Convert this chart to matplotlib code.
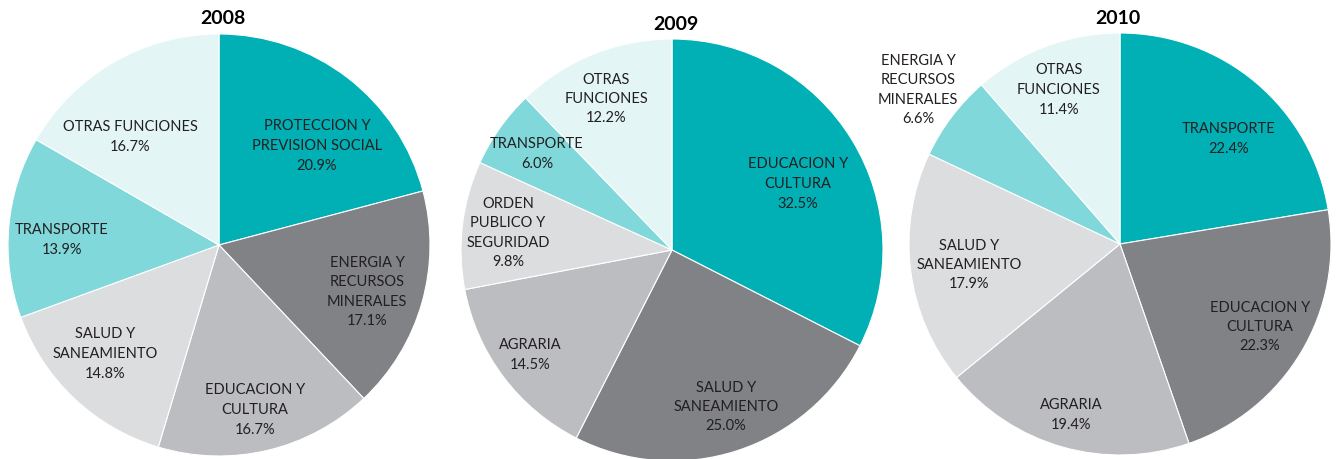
import matplotlib
matplotlib.use('Agg')
import matplotlib.pyplot as plt

plt.rcParams['font.family'] = ['Lato', 'DejaVu Sans']

# data
years = ['2008', '2009', '2010']

labels_2008 = ['PROTECCION Y\nPREVISION SOCIAL', 'ENERGIA Y\nRECURSOS\nMINERALES',
               'EDUCACION Y\nCULTURA', 'SALUD Y\nSANEAMIENTO', 'TRANSPORTE',
               'OTRAS FUNCIONES']
values_2008 = [20.9, 17.1, 16.7, 14.8, 13.9, 16.7]

labels_2009 = ['EDUCACION Y\nCULTURA', 'SALUD Y\nSANEAMIENTO', 'AGRARIA',
               'ORDEN\nPUBLICO Y\nSEGURIDAD', 'TRANSPORTE', 'OTRAS\nFUNCIONES']
values_2009 = [32.5, 25.0, 14.5, 9.8, 6.0, 12.2]

labels_2010 = ['TRANSPORTE', 'EDUCACION Y\nCULTURA', 'AGRARIA',
               'SALUD Y\nSANEAMIENTO', 'ENERGIA Y\nRECURSOS\nMINERALES',
               'OTRAS\nFUNCIONES']
values_2010 = [22.4, 22.3, 19.4, 17.9, 6.6, 11.4]

colors = ['#00B0B4', '#808285', '#BCBDC0', '#DCDDDF', '#80D8DA', '#E3F5F5']

# layout (pixels)
centers = [(219, 245), (672, 250), (1120, 244)]
radius = 211
title_pos = [(223, 18), (676, 24), (1118, 18)]
label_pos = [
    [(317, 146), (367, 292), (255, 410), (105, 354), (62, 240), (130, 137)],
    [(798, 184), (726, 407), (530, 355), (508, 233), (537, 154), (606, 99)],
    [(1229, 139), (1260, 327), (1071, 415), (969, 265), (918, 90), (1059, 90)],
]

fig = plt.figure(figsize=(13.38, 4.59), dpi=100)
ax = fig.add_axes([0, 0, 1, 1])

all_labels = [labels_2008, labels_2009, labels_2010]
all_values = [values_2008, values_2009, values_2010]

for i in range(3):
    # y axis is inverted below, so counterclock in data = clockwise on screen
    ax.pie(all_values[i], colors=colors, center=centers[i], radius=radius,
           startangle=-90, counterclock=True, frame=True,
           wedgeprops=dict(edgecolor='white', linewidth=0.8))
    for lab, val, (x, y) in zip(all_labels[i], all_values[i], label_pos[i]):
        ax.text(x, y, '{}\n{:.1f}%'.format(lab, val), ha='center', va='center',
                fontsize=10.5, color='#231F20', linespacing=1.5)
    ax.text(title_pos[i][0], title_pos[i][1], years[i], ha='center', va='center',
            fontsize=14, fontweight='bold', color='black')

ax.set_xlim(0, 1338)
ax.set_ylim(459, 0)
ax.set_aspect('equal')
ax.axis('off')

fig.savefig('out.png', dpi=100, facecolor='white')
